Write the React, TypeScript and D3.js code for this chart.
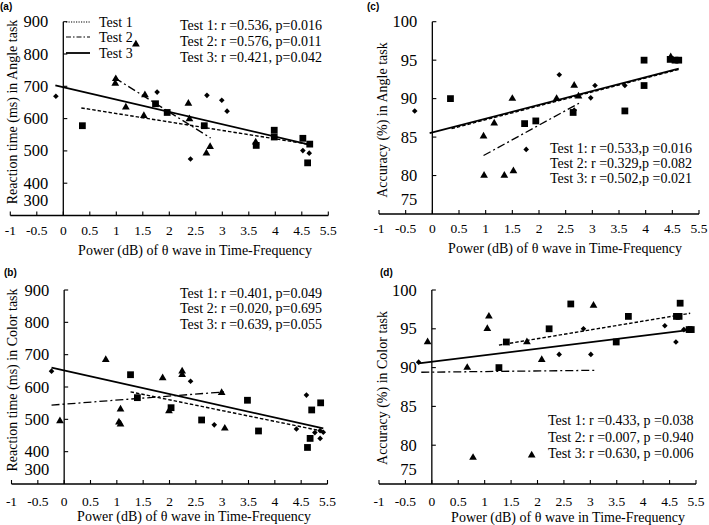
import React from 'react';
import * as d3 from 'd3';

// ---------- shared ticks ----------
const xTickValues = [-1, -0.5, 0, 0.5, 1, 1.5, 2, 2.5, 3, 3.5, 4, 4.5, 5];
const xTickLabels = ['-1', '-0.5', '0', '0.5', '1', '1.5', '2', '2.5', '3', '3.5', '4', '4.5', '5.5'];
const rtTicks = [300, 400, 500, 600, 700, 800, 900];
const accTicks = [75, 80, 85, 90, 95, 100];
const legendNames = ['Test 1', 'Test 2', 'Test 3'];
const xTitle = 'Power (dB) of θ wave in Time-Frequency';

// ---------- panel (a): RT angle ----------
const aTest1X = [0.36, 1.74, 1.96, 2.66, 3.64, 3.98, 3.98, 4.52, 4.61, 4.65];
const aTest1Y = [578, 646, 619, 578, 517, 564, 543, 539, 463, 521];
const aTest2X = [0.99, 0.98, 1.37, 1.18, 1.54, 1.52, 2.36, 2.38, 2.70, 2.77, 3.63];
const aTest2Y = [723, 709, 830, 635, 673, 609, 647, 599, 493, 513, 527];
const aTest3X = [-0.14, 1.77, 2.40, 2.71, 2.99, 3.09, 4.52, 4.64];
const aTest3Y = [669, 682, 475, 672, 657, 623, 501, 493];
const aFitX = [[0.34, 4.66], [0.97, 2.78], [-0.15, 4.66]];
const aFitY = [[633, 520], [726, 540], [703, 519]];
const aStats = ['Test 1: r =0.536, p=0.016', 'Test 2: r =0.576, p=0.011', 'Test 3: r =0.421, p=0.042'];

// ---------- panel (b): RT color ----------
const bTest1X = [1.26, 1.39, 2.03, 2.61, 3.48, 3.69, 4.62, 4.67, 4.70, 4.87];
const bTest1Y = [638, 567, 536, 498, 559, 464, 413, 441, 529, 551];
const bTest2X = [-0.08, 0.79, 1.07, 1.04, 1.07, 1.87, 1.99, 2.24, 2.24, 2.99, 3.05];
const bTest2Y = [495, 684, 531, 491, 485, 628, 526, 649, 638, 582, 472];
const bTest3X = [-0.24, 2.40, 2.85, 4.41, 4.60, 4.76, 4.86, 4.86, 4.92];
const bTest3Y = [649, 618, 483, 470, 575, 459, 441, 465, 460];
const bFitX = [[1.26, 4.92], [-0.24, 3.05], [-0.24, 4.92]];
const bFitY = [[585, 463], [544, 585], [660, 472]];
const bStats = ['Test 1: r =0.401, p=0.049', 'Test 2: r =0.020, p=0.695', 'Test 3: r =0.639, p=0.055'];

// ---------- panel (c): accuracy angle ----------
const cTest1X = [0.34, 1.73, 1.94, 2.64, 3.61, 3.97, 3.97, 4.46, 4.55, 4.62];
const cTest1Y = [90.0, 86.75, 87.1, 88.2, 88.4, 95.0, 91.7, 95.1, 95.0, 95.0];
const cTest2X = [0.96, 0.97, 1.16, 1.35, 1.50, 1.52, 2.33, 2.66, 2.74, 4.47];
const cTest2Y = [85.1, 80.0, 86.8, 80.0, 90.0, 80.6, 90.0, 91.7, 90.3, 95.4];
const cTest3X = [-0.33, 2.38, 1.76, 2.66, 3.05, 2.97, 3.61, 4.47];
const cTest3Y = [88.4, 93.1, 83.4, 88.5, 91.7, 90.1, 91.7, 95.2];
const cFitX = [[0.36, 4.62], [0.96, 2.75], [-0.05, 4.62]];
const cFitY = [[86.1, 93.8], [82.6, 89.4], [85.5, 93.9]];
const cStats = ['Test 1: r =0.533,p =0.016', 'Test 2: r =0.329,p =0.082', 'Test 3: r =0.502,p =0.021'];

// ---------- panel (d): accuracy color ----------
const dTest1X = [1.27, 1.41, 2.22, 2.63, 3.49, 3.72, 4.63, 4.68, 4.70, 4.87, 4.91];
const dTest1Y = [90.0, 93.3, 95.0, 98.2, 93.3, 96.6, 96.6, 96.6, 98.3, 94.9, 94.9];
const dTest2X = [-0.08, 0.67, 0.78, 1.05, 1.08, 1.80, 1.89, 2.08, 3.06];
const dTest2Y = [93.3, 90.0, 78.4, 95.0, 96.6, 93.3, 78.7, 91.0, 98.0];
const dTest3X = [-0.25, 2.41, 2.87, 3.01, 4.41, 4.62, 4.77, 4.86];
const dTest3Y = [90.7, 91.7, 95.0, 91.7, 95.4, 93.3, 94.9, 95.0];
const dFitX = [[1.27, 4.89], [-0.2, 3.09], [-0.25, 4.89]];
const dFitY = [[92.9, 97.0], [89.4, 89.65], [90.55, 94.85]];
const dStats = ['Test 1: r =0.433, p =0.038', 'Test 2: r =0.007, p =0.940', 'Test 3: r =0.630, p =0.006'];

const SERIF = '"Liberation Serif", "Times New Roman", serif';
const SANS = '"Liberation Sans", Arial, sans-serif';

const lineStyles = [
  { dash: '3.5,2', width: 1.4 },
  { dash: '8,3,2,3', width: 1.3 },
  { dash: null, width: 1.8 },
];
const legendDash = ['1.2,1.3', '5,2,1.5,2', null];

const squarePath = d3.symbol(d3.symbolSquare, 46)();
const trianglePath = d3.symbol(d3.symbolTriangle, 26)();
const diamondPath = 'M0,-2.8L2.8,0L0,2.8L-2.8,0Z';
const markerPaths = [squarePath, trianglePath, diamondPath];

type PanelProps = {
  tag: string;
  tagX: number; tagY: number;
  xRange: [number, number];
  yDomain: [number, number];
  yRange: [number, number];
  yTicks: number[];
  yTitle: string;
  yTitleX: number; yTitleY: number;
  xLabelY: number; xTitleX: number; xTitleY: number;
  xs: number[][]; ys: number[][];
  fitX: number[][]; fitY: number[][];
  stats: string[]; statsX: number; statsY: number[];
  legend?: boolean;
};

function Panel(p: PanelProps) {
  const x = d3.scaleLinear().domain([-1, 5]).range(p.xRange);
  const y = d3.scaleLinear().domain(p.yDomain).range(p.yRange);
  const ax = x(0);
  const bottom = y(p.yDomain[0]);
  const top = y(p.yDomain[1]);
  const line = d3.line<[number, number]>().x(d => x(d[0])).y(d => y(d[1]));
  return (
    <g>
      <text x={p.tagX} y={p.tagY} fontFamily={SANS} fontWeight="bold" fontSize={10}>{p.tag}</text>
      {/* axes */}
      <line x1={x(-1)} x2={x(5)} y1={bottom} y2={bottom} stroke="#000" strokeWidth={1.3} />
      <line x1={ax} x2={ax} y1={top} y2={bottom} stroke="#000" strokeWidth={1.3} />
      {xTickValues.map((v, i) => (
        <g key={'xt' + i}>
          <line x1={x(v)} x2={x(v)} y1={bottom} y2={bottom - 4} stroke="#000" strokeWidth={1.1} />
          <text x={x(v)} y={p.xLabelY} textAnchor="middle" fontFamily={SERIF} fontSize={13.5}>{xTickLabels[i]}</text>
        </g>
      ))}
      {p.yTicks.map((v, i) => (
        <g key={'yt' + i}>
          {i > 0 && <line x1={ax} x2={ax + 4} y1={y(v)} y2={y(v)} stroke="#000" strokeWidth={1.1} />}
          <text x={ax - 15} y={y(v) + 5.5 - (i === 0 ? 15 : 0)} textAnchor="end" fontFamily={SERIF} fontSize={16.5}>{v}</text>
        </g>
      ))}
      <text x={p.xTitleX} y={p.xTitleY} textAnchor="middle" fontFamily={SERIF} fontSize={14}>{xTitle}</text>
      <text transform={`translate(${p.yTitleX},${p.yTitleY}) rotate(-90)`} textAnchor="middle" fontFamily={SERIF} fontSize={14}>{p.yTitle}</text>
      {/* fit lines */}
      {p.fitX.map((fx, i) => (
        <path key={'fit' + i}
          d={line([[fx[0], p.fitY[i][0]], [fx[1], p.fitY[i][1]]]) || ''}
          fill="none" stroke="#000" strokeWidth={lineStyles[i].width}
          strokeDasharray={lineStyles[i].dash || undefined} />
      ))}
      {/* points */}
      {p.xs.map((arr, s) => arr.map((vx, j) => (
        <path key={`pt${s}-${j}`} d={markerPaths[s] || ''}
          transform={`translate(${x(vx)},${y(p.ys[s][j])})`} fill="#000" />
      )))}
      {/* stats */}
      {p.stats.map((t, i) => (
        <text key={'st' + i} x={p.statsX} y={p.statsY[i]} fontFamily={SERIF} fontSize={14}>{t}</text>
      ))}
      {p.legend && legendNames.map((n, i) => (
        <g key={'lg' + i}>
          <line x1={66} x2={90} y1={[22, 37, 53][i]} y2={[22, 37, 53][i]} stroke="#000"
            strokeWidth={i === 2 ? 1.8 : 1.1} strokeDasharray={legendDash[i] || undefined} />
          <text x={99} y={[22, 37, 53][i] + 5} fontFamily={SERIF} fontSize={14}>{n}</text>
        </g>
      ))}
    </g>
  );
}

export default function App() {
  return (
    <svg width={709} height={525} style={{ position: 'absolute', left: 0, top: 0, background: '#fff' }}>
      <rect width={709} height={525} fill="#fff" />
      <Panel tag="(a)" tagX={0} tagY={10}
        xRange={[10.3, 328.3]} yDomain={[300, 900]} yRange={[215.5, 21.7]} yTicks={rtTicks}
        yTitle="Reaction time (ms) in Angle task" yTitleX={16.5} yTitleY={112}
        xLabelY={235} xTitleX={195} xTitleY={255}
        xs={[aTest1X, aTest2X, aTest3X]} ys={[aTest1Y, aTest2Y, aTest3Y]}
        fitX={aFitX} fitY={aFitY}
        stats={aStats} statsX={180} statsY={[30, 46, 62]} legend />
      <Panel tag="(c)" tagX={367} tagY={10}
        xRange={[379, 699]} yDomain={[75, 100]} yRange={[214, 21.7]} yTicks={accTicks}
        yTitle="Accuracy (%) in Angle task" yTitleX={386.5} yTitleY={120}
        xLabelY={233} xTitleX={565} xTitleY={253}
        xs={[cTest1X, cTest2X, cTest3X]} ys={[cTest1Y, cTest2Y, cTest3Y]}
        fitX={cFitX} fitY={cFitY}
        stats={cStats} statsX={550} statsY={[153, 168, 183]} />
      <Panel tag="(b)" tagX={4} tagY={276}
        xRange={[11.5, 327.5]} yDomain={[300, 900]} yRange={[484, 290]} yTicks={rtTicks}
        yTitle="Reaction time (ms) in Color task" yTitleX={16.5} yTitleY={380}
        xLabelY={506} xTitleX={194} xTitleY={521}
        xs={[bTest1X, bTest2X, bTest3X]} ys={[bTest1Y, bTest2Y, bTest3Y]}
        fitX={bFitX} fitY={bFitY}
        stats={bStats} statsX={180} statsY={[298, 313, 329]} />
      <Panel tag="(d)" tagX={380} tagY={276}
        xRange={[379, 696]} yDomain={[75, 100]} yRange={[484, 290]} yTicks={accTicks}
        yTitle="Accuracy (%) in Color task" yTitleX={386.5} yTitleY={388}
        xLabelY={506} xTitleX={568} xTitleY={522}
        xs={[dTest1X, dTest2X, dTest3X]} ys={[dTest1Y, dTest2Y, dTest3Y]}
        fitX={dFitX} fitY={dFitY}
        stats={dStats} statsX={548} statsY={[425, 441.5, 458]} />
    </svg>
  );
}
